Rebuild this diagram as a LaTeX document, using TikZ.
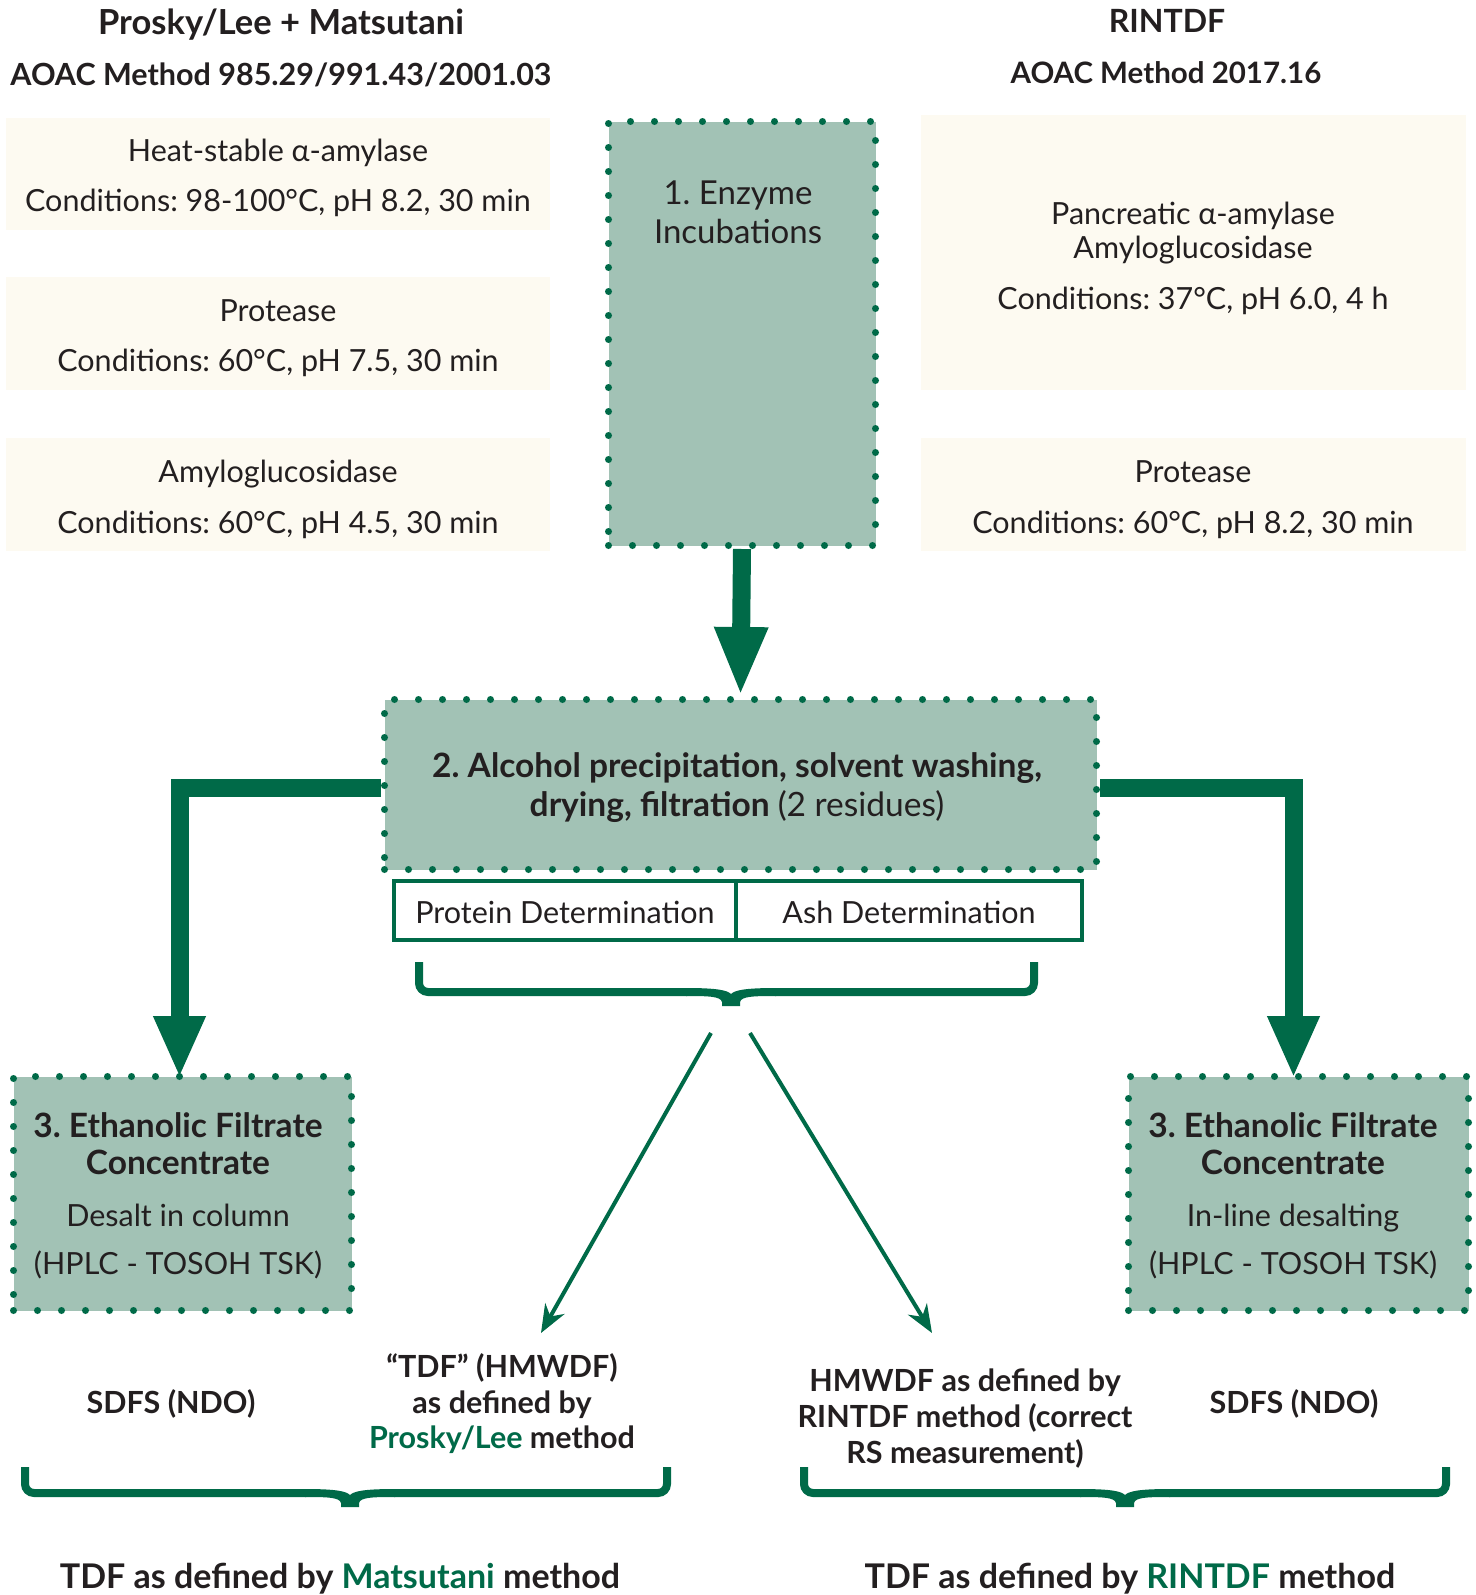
\documentclass[tikz,border=0pt]{standalone}
\usepackage{fontspec}
\setmainfont{Lato}
\usetikzlibrary{arrows.meta}
\definecolor{dg}{HTML}{006A48}
\definecolor{boxfill}{HTML}{A2C2B5}
\definecolor{beigec}{HTML}{FDFAF1}
\definecolor{txt}{HTML}{231F20}
\frenchspacing
\newcommand\drawbrace[5]{% xL xR ytop yh xc
  \draw[bracestyle] (#1,#3) -- (#1,#4) -- (#5-44,#4);
  \draw[bracestyle] (#5+44,#4) -- (#2,#4) -- (#2,#3);
  \fill[dg] (#5-45,#4-4) .. controls (#5-15,#4-4) and (#5-4,#4-2) .. (#5,#4+2)
    .. controls (#5+4,#4-2) and (#5+15,#4-4) .. (#5+45,#4-4)
    -- (#5+45,#4+4) .. controls (#5+25,#4+4) and (#5+10,#4+4) .. (#5+9,#4+10)
    -- (#5+9,#4+14) -- (#5-9,#4+14) -- (#5-9,#4+10)
    .. controls (#5-10,#4+4) and (#5-25,#4+4) .. (#5-45,#4+4) -- cycle;}
\begin{document}
\begin{tikzpicture}[x=1pt,y=-1pt,
  beige/.style={fill=beigec,draw=none,inner sep=0pt,anchor=north west},
  dotbox/.style={fill=boxfill,draw=dg,line width=7pt,line cap=round,dash pattern=on 0pt off 24pt,inner sep=0pt,anchor=north west},
  reg/.style={inner sep=0pt,text=txt,font=\fontsize{30.5}{36}\selectfont,text height=22pt,text depth=0pt},
  hd/.style={inner sep=0pt,text=txt,font=\fontsize{30.5}{36}\selectfont\bfseries,text height=22pt,text depth=0pt},
  ttl/.style={inner sep=0pt,text=txt,font=\fontsize{33.5}{40}\selectfont\bfseries,text height=24pt,text depth=0pt},
  lab/.style={inner sep=0pt,text=txt,font=\fontsize{30.5}{36}\selectfont\bfseries,text height=22pt,text depth=0pt},
  fin/.style={inner sep=0pt,text=txt,font=\fontsize{34}{40}\selectfont\bfseries,text height=24.5pt,text depth=0pt},
  fat/.style={draw=dg,line width=18pt,line join=miter},
  thin/.style={draw=dg,line width=4pt,-{Stealth[length=28pt,width=22pt,inset=9pt]}},
  bracestyle/.style={draw=dg,line width=8pt,rounded corners=9pt},
]
\useasboundingbox (0,0) rectangle (1475,1595);
\fill[white] (0,0) rectangle (1475,1595);

% headers
\node[hd,font=\fontsize{34.5}{40}\selectfont\bfseries,text height=25pt] (hL1) at (281,22) {Prosky/Lee + Matsutani};
\node[hd] (hL2) at (281,74) {AOAC Method 985.29/991.43/2001.03};
\node[hd,font=\fontsize{32}{38}\selectfont\bfseries,text height=23pt] (hR1) at (1167,21) {RINTDF};
\node[hd,font=\fontsize{29.5}{36}\selectfont\bfseries] (hR2) at (1166,72) {AOAC Method 2017.16};

% beige boxes
\node[beige,minimum width=544pt,minimum height=112pt] (bL1) at (6,118) {};
\node[beige,minimum width=544pt,minimum height=113pt] (bL2) at (6,277) {};
\node[beige,minimum width=544pt,minimum height=113pt] (bL3) at (6,438) {};
\node[beige,minimum width=545pt,minimum height=275pt] (bR1) at (921,115) {};
\node[beige,minimum width=545pt,minimum height=113pt] (bR2) at (921,438) {};

\node[reg] (tL1a) at (278,150) {Heat-stable α-amylase};
\node[reg] (tL1b) at (278,200) {Conditions: 98-100°C, pH 8.2, 30 min};
\node[reg] (tL2a) at (278,310) {Protease};
\node[reg] (tL2b) at (278,360) {Conditions: 60°C, pH 7.5, 30 min};
\node[reg] (tL3a) at (278,471) {Amyloglucosidase};
\node[reg] (tL3b) at (278,522) {Conditions: 60°C, pH 4.5, 30 min};
\node[reg] (tR1a) at (1193,213) {Pancreatic α-amylase};
\node[reg] (tR1b) at (1193,247) {Amyloglucosidase};
\node[reg] (tR1c) at (1193,298) {Conditions: 37°C, pH 6.0, 4 h};
\node[reg] (tR2a) at (1193,471) {Protease};
\node[reg] (tR2b) at (1193,522) {Conditions: 60°C, pH 8.2, 30 min};

% dotted boxes
\node[dotbox,minimum width=267pt,minimum height=424pt] (s1) at (605,118) {};
\node[dotbox,minimum width=712pt,minimum height=170pt] (s2) at (381,696) {};
\node[dotbox,minimum width=338pt,minimum height=234pt] (s3L) at (10,1073) {};
\node[dotbox,minimum width=340pt,minimum height=234pt] (s3R) at (1125,1073) {};

\node[ttl,font=\fontsize{33}{40}\selectfont\mdseries] (s1a) at (738,192) {1. Enzyme};
\node[ttl,font=\fontsize{33}{40}\selectfont\mdseries] (s1b) at (738,231) {Incubations};
\node[ttl] (s2a) at (737,765) {2. Alcohol precipitation, solvent washing,};
\node[ttl] (s2b) at (737,804) {drying, filtration \mdseries(2 residues)};
\node[ttl] (s3La) at (178,1125) {3. Ethanolic Filtrate};
\node[ttl] (s3Lb) at (178,1162) {Concentrate};
\node[reg] (s3Lc) at (178,1215) {Desalt in column};
\node[reg] (s3Ld) at (178,1263) {(HPLC - TOSOH TSK)};
\node[ttl] (s3Ra) at (1293,1125) {3. Ethanolic Filtrate};
\node[ttl] (s3Rb) at (1293,1162) {Concentrate};
\node[reg] (s3Rc) at (1293,1215) {In-line desalting};
\node[reg] (s3Rd) at (1293,1263) {(HPLC - TOSOH TSK)};

% determination boxes
\node[draw=dg,line width=4pt,minimum width=342pt,minimum height=59pt,inner sep=0pt] (prot) at (565,910.5) {};
\node[draw=dg,line width=4pt,minimum width=346pt,minimum height=59pt,inner sep=0pt] (ash) at (909,910.5) {};
\node[reg] (protT) at (565,912) {Protein Determination};
\node[reg] (ashT) at (909,912) {Ash Determination};

% fat arrows
\draw[fat,-{Triangle[width=49pt,length=69pt]}] (s1.south) -- (s2.north);
\draw[fat,-{Triangle[width=48pt,length=62pt]}] ([yshift=-3pt]s2.west) -| ([xshift=-3pt,yshift=-5pt]s3L.north);
\draw[fat,-{Triangle[width=48pt,length=62pt]}] ([yshift=-3pt]s2.east) -| ([xshift=-5pt,yshift=-5pt]s3R.north);

% top brace
\drawbrace{419}{1034}{962}{992}{731}

% thin arrows
\coordinate (a1s) at (711,1033);
\coordinate (a1e) at (541,1333);
\coordinate (a2s) at (750,1033);
\coordinate (a2e) at (932,1333);
\draw[thin] (a1s) -- (a1e);
\draw[thin] (a2s) -- (a2e);

% bottom labels
\node[lab] (sdfsL) at (171,1402) {SDFS (NDO)};
\node[lab] (tdf1) at (502,1366) {“TDF” (HMWDF)};
\node[lab] (tdf2) at (502,1402) {as defined by};
\node[lab] (tdf3) at (502,1437) {\textcolor{dg}{Prosky/Lee} method};
\node[lab] (hm1) at (965,1380) {HMWDF as defined by};
\node[lab] (hm2) at (965,1416) {RINTDF method (correct};
\node[lab] (hm3) at (965,1452) {RS measurement)};
\node[lab] (sdfsR) at (1294,1402) {SDFS (NDO)};

% bottom braces
\drawbrace{25}{667}{1467}{1493}{350}
\drawbrace{804}{1446}{1467}{1493}{1125}

\node[fin] (finL) at (340,1576) {TDF as defined by \textcolor{dg}{Matsutani} method};
\node[fin] (finR) at (1130,1576) {TDF as defined by \textcolor{dg}{RINTDF} method};
\end{tikzpicture}
\end{document}
